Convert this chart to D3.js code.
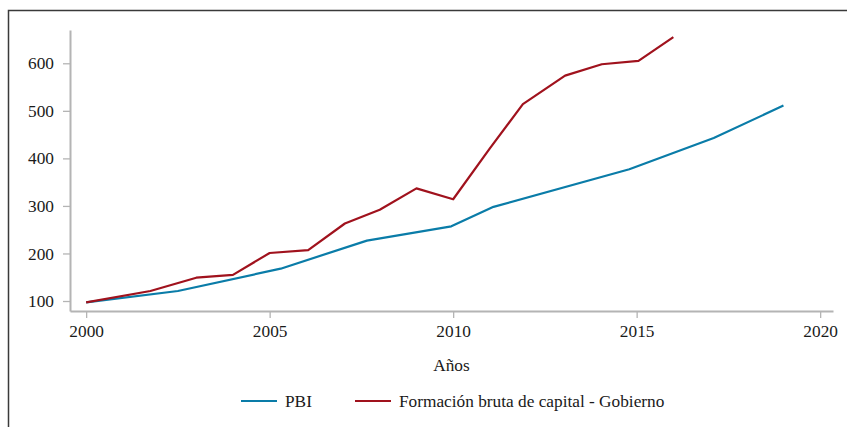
<!DOCTYPE html>
<html>
<head>
<meta charset="utf-8">
<script src="https://cdn.jsdelivr.net/npm/d3@7"></script>
<style>
  body { margin: 0; background: #fff; }
  svg text { font-family: "Liberation Serif", "DejaVu Serif", serif !important; }
</style>
</head>
<body>
<svg class="chart" width="847" height="427"></svg>
<script>
// PBI (index)
const pbiYears = [2000, 2002.5, 2005.3, 2007.65, 2009.95, 2011.1, 2014.8, 2017.1, 2019];
const pbiValues = [97, 121, 168, 227, 257, 298, 377, 443, 511];

// Formación bruta de capital - Gobierno (index)
const fbkYears = [2000, 2001.75, 2003, 2004, 2005, 2006.05, 2007.05, 2008, 2009, 2010, 2011, 2011.9, 2013.05, 2014.05, 2015.05, 2016];
const fbkValues = [97, 121, 149, 155, 201, 207, 263, 292, 337, 314, 421, 514, 574, 598, 605, 655];

const xTicks = [2000, 2005, 2010, 2015, 2020];
const yTicks = [100, 200, 300, 400, 500, 600];

const seriesNames = ["PBI", "Formación bruta de capital - Gobierno"];
const seriesColors = ["#0a7ca8", "#a0121d"];

const svg = d3.select(".chart");
const width = +svg.attr("width");
const height = +svg.attr("height");
const fontSize = "17.3px";

// outer frame (only top/left visible in the crop)
svg.append("path")
    .attr("d", `M8.5,${height} L8.5,10.5 L${width},10.5`)
    .attr("fill", "none")
    .attr("stroke", "#3a3a3a")
    .attr("stroke-width", 1.5);

const plotLeft = 70, plotRight = 833, plotTop = 30, plotBottom = 311;

const x = d3.scaleLinear().domain([1999.56, 2020.35]).range([plotLeft, plotRight]);
const y = d3.scaleLinear().domain([79, 670]).range([plotBottom, plotTop]);

const axisColor = "#b4b4b4";

const xAxis = svg.append("g")
    .attr("transform", `translate(0,${plotBottom})`)
    .call(d3.axisBottom(x).tickValues(xTicks).tickFormat(d3.format("d")).tickSize(7).tickPadding(6.5).tickSizeOuter(0));

const yAxis = svg.append("g")
    .attr("transform", `translate(${plotLeft},0)`)
    .call(d3.axisLeft(y).tickValues(yTicks).tickSize(7).tickPadding(9).tickSizeOuter(0));

[xAxis, yAxis].forEach(g => {
    g.attr("font-family", null).attr("font-size", null);
    g.select(".domain").attr("stroke", axisColor).attr("stroke-width", 2);
    g.selectAll(".tick line").attr("stroke", axisColor).attr("stroke-width", 1.3);
    g.selectAll(".tick text")
        .attr("fill", "#1a1a1a")
        .style("font-size", fontSize);
});

const line = d3.line()
    .x(d => x(d[0]))
    .y(d => y(d[1]));

const series = [
    d3.zip(pbiYears, pbiValues),
    d3.zip(fbkYears, fbkValues)
];

series.forEach((s, i) => {
    svg.append("path")
        .datum(s)
        .attr("fill", "none")
        .attr("stroke", seriesColors[i])
        .attr("stroke-width", 2.2)
        .attr("stroke-linejoin", "round")
        .attr("d", line);
});

// axis title
svg.append("text")
    .attr("x", (plotLeft + plotRight) / 2)
    .attr("y", 371)
    .attr("text-anchor", "middle")
    .attr("fill", "#1a1a1a")
    .style("font-size", fontSize)
    .text("Años");

// legend
const legendX = [241, 355];
seriesNames.forEach((name, i) => {
    const g = svg.append("g").attr("transform", `translate(${legendX[i]},401)`);
    g.append("line")
        .attr("x1", 0).attr("x2", 36)
        .attr("stroke", seriesColors[i])
        .attr("stroke-width", 2.2);
    g.append("text")
        .attr("x", 44)
        .attr("y", 5.5)
        .attr("fill", "#1a1a1a")
        .style("font-size", fontSize)
        .text(name);
});
</script>
</body>
</html>
